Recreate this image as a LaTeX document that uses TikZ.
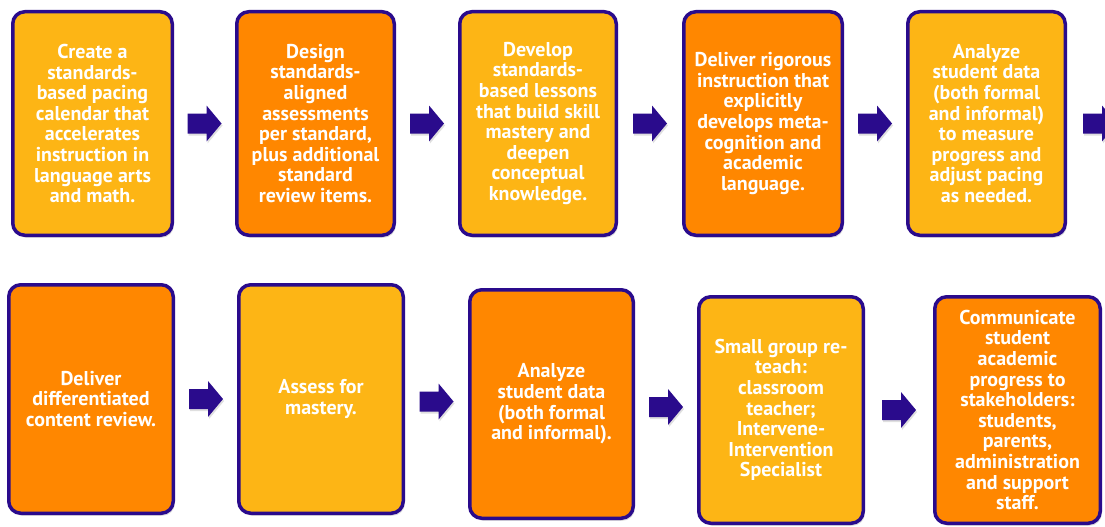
\documentclass[tikz,border=0pt]{standalone}
\usepackage{fontspec}
\setmainfont{PT Sans}
\usetikzlibrary{shadows,calc}
\definecolor{bord}{HTML}{2A0B8C}
\definecolor{gold}{HTML}{FDB515}
\definecolor{orng}{HTML}{FF8700}
\tikzset{
  card/.style={draw=bord, line width=3.5pt, rounded corners=12pt, inner sep=0pt,
    align=center, text=white, font=\bfseries\fontsize{20}{20.6}\selectfont,
    drop shadow={opacity=0.25, shadow xshift=1.5pt, shadow yshift=-2.5pt}},
  goldcard/.style={card, fill=gold},
  orngcard/.style={card, fill=orng},
  blockarrow/.pic={
    \fill[bord, drop shadow={opacity=0.25, shadow xshift=1pt, shadow yshift=-2pt}]
      (-17,-10) -- (2,-10) -- (2,-18) -- (17,0) -- (2,18) -- (2,10) -- (-17,10) -- cycle;
  }
}
\begin{document}
\begin{tikzpicture}[x=1pt,y=-1pt]
\useasboundingbox (0,0) rectangle (1105,527);
\clip (0,0) rectangle (1105,527);
\fill[white] (0,0) rectangle (1105,527);
% top row
\node[goldcard, minimum width=159.5pt, minimum height=223.5pt] (b1) at (92.5,123.5)
  {Create a\\standards-\\based pacing\\calendar that\\accelerates\\instruction in\\language arts\\and math.};
\node[orngcard, minimum width=157.5pt, minimum height=223.5pt] (b2) at (315.5,123.5)
  {Design\\standards-\\aligned\\assessments\\per standard,\\plus additional\\standard\\review items.};
\node[goldcard, minimum width=156.5pt, minimum height=223.5pt] (b3) at (538,123.5)
  {Develop\\standards-\\based lessons\\that build skill\\mastery and\\deepen\\conceptual\\knowledge.};
\node[orngcard, minimum width=158.5pt, minimum height=223.5pt] (b4) at (763,123.5)
  {Deliver rigorous\\instruction that\\explicitly\\develops meta-\\cognition and\\academic\\language.};
\node[goldcard, minimum width=157.5pt, minimum height=223.5pt] (b5) at (986.5,123.5)
  {Analyze\\student data\\(both formal\\and informal)\\to measure\\progress and\\adjust pacing\\as needed.};
% bottom row
\node[orngcard, minimum width=164.5pt, minimum height=228.5pt] (b6) at (91,399)
  {Deliver\\differentiated\\content review.};
\node[goldcard, minimum width=164.5pt, minimum height=228.5pt] (b7) at (321,399)
  {Assess for\\mastery.};
\node[orngcard, minimum width=163.5pt, minimum height=228.5pt] (b8) at (551.5,404)
  {Analyze\\student data\\(both formal\\and informal).};
\node[goldcard, minimum width=164.5pt, minimum height=226.5pt] (b9) at (781,410)
  {Small group re-\\teach:\\classroom\\teacher;\\Intervene-\\Intervention\\Specialist};
\node[orngcard, minimum width=165.5pt, minimum height=226.5pt] (b10) at (1017.5,410)
  {Communicate\\student\\academic\\progress to\\stakeholders:\\students,\\parents,\\administration\\and support\\staff.};
% arrows between named cards
\coordinate (m12) at ($(b1.east)!0.5!(b2.west)$);
\coordinate (m23) at ($(b2.east)!0.5!(b3.west)$);
\coordinate (m34) at ($(b3.east)!0.5!(b4.west)$);
\coordinate (m45) at ($(b4.east)!0.5!(b5.west)$);
\coordinate (m5x) at ([xshift=33pt]b5.east);
\coordinate (m67) at ($(b6.east)!0.5!(b7.west)$);
\coordinate (m78) at ($(b7.east)!0.5!(b8.west)$);
\coordinate (m89) at ($(b8.east)!0.5!(b9.west)$);
\coordinate (m910) at ($(b9.east)!0.5!(b10.west)$);
\foreach \m in {m12,m23,m34,m45,m5x,m67,m78,m89,m910}
  \pic at (\m) {blockarrow};
\end{tikzpicture}
\end{document}
